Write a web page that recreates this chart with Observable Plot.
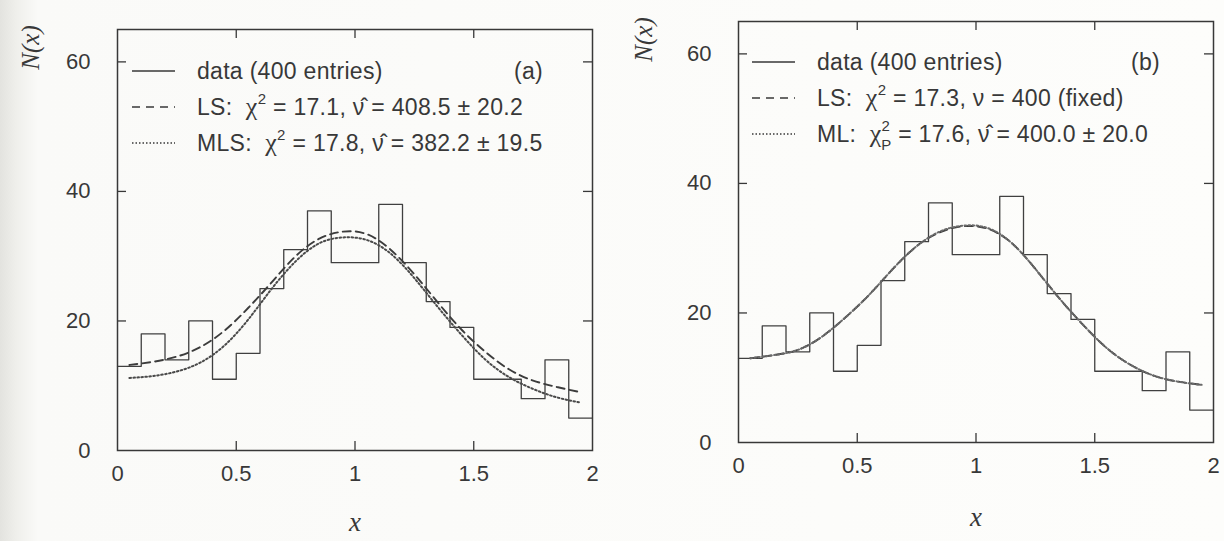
<!DOCTYPE html>
<html>
<head>
<meta charset="utf-8">
<script src="https://cdn.jsdelivr.net/npm/d3@7"></script>
<script src="https://cdn.jsdelivr.net/npm/@observablehq/plot@0.6"></script>
<style>
  html, body { margin: 0; padding: 0; background: #fdfdfb; }
  #wrap { display: flex; width: 1224px; height: 541px;
    background: linear-gradient(to right, #e3e3df 0px, #efefeb 16px, #fafaf8 38px, #fdfdfb 100%); }
  #wrap svg { display: block; }
</style>
</head>
<body>
<div id="wrap"></div>
<script>
// ---------- data ----------
const binEdges = [0, 0.1, 0.2, 0.3, 0.4, 0.5, 0.6, 0.7, 0.8, 0.9, 1.0,
                  1.1, 1.2, 1.3, 1.4, 1.5, 1.6, 1.7, 1.8, 1.9, 2.0];
const counts = [13, 18, 14, 20, 11, 15, 25, 31, 37, 29, 29, 38, 29, 23, 19, 11, 11, 8, 14, 5];
const binCenters = [0.05, 0.15, 0.25, 0.35, 0.45, 0.55, 0.65, 0.75, 0.85, 0.95,
                    1.05, 1.15, 1.25, 1.35, 1.45, 1.55, 1.65, 1.75, 1.85, 1.95];
// panel (a)
const fitLS_a  = [13.2, 13.7, 14.5, 16.0, 18.5, 22.0, 26.0, 30.0, 32.7, 33.8,
                  33.4, 31.0, 27.2, 22.8, 18.6, 15.2, 12.5, 10.8, 9.8, 9.0];
const fitMLS_a = [11.2, 11.5, 12.2, 13.6, 16.2, 20.2, 25.0, 29.2, 32.0, 32.9,
                  32.5, 30.4, 26.6, 22.1, 17.8, 14.0, 11.3, 9.5, 8.2, 7.4];
// panel (b)
const fitLS_b  = [13.0, 13.5, 14.3, 16.3, 19.3, 22.8, 26.8, 30.3, 32.5, 33.4,
                  33.0, 30.8, 26.8, 22.3, 18.2, 14.6, 12.0, 10.3, 9.4, 8.9];
const fitML_b  = [13.0, 13.5, 14.3, 16.3, 19.3, 22.8, 26.8, 30.3, 32.6, 33.5,
                  33.1, 30.8, 26.8, 22.3, 18.2, 14.6, 12.0, 10.3, 9.4, 8.9];
const xTicks = [0, 0.5, 1, 1.5, 2];
const yTicks = [0, 20, 40, 60];
const xInnerTicks = [0.5, 1, 1.5];
const yInnerTicks = [20, 40, 60];
const xLabel = "x";
const yLabel = "N(x)";

const legendA = {
  tag: "(a)",
  rows: [
    [{t: "data (400 entries)"}],
    [{t: "LS:\u00a0\u00a0"}, {t: "χ", serif: true}, {t: "2", size: 15, dy: -11}, {t: " = 17.1, ", dy: 11}, {t: "ν\u0302"}, {t: " = 408.5 ± 20.2"}],
    [{t: "MLS:\u00a0\u00a0"}, {t: "χ", serif: true}, {t: "2", size: 15, dy: -11}, {t: " = 17.8, ", dy: 11}, {t: "ν\u0302"}, {t: " = 382.2 ± 19.5"}]
  ]
};
const legendB = {
  tag: "(b)",
  rows: [
    [{t: "data (400 entries)"}],
    [{t: "LS:\u00a0\u00a0"}, {t: "χ", serif: true}, {t: "2", size: 15, dy: -11}, {t: " = 17.3, ", dy: 11}, {t: "ν"}, {t: " = 400 (fixed)"}],
    [{t: "ML:\u00a0\u00a0"}, {t: "χ", serif: true}, {t: "2", size: 15, dy: -11}, {t: "P", size: 15, dx: -9, dy: 19}, {t: " = 17.6, ", dy: -8}, {t: "ν\u0302"}, {t: " = 400.0 ± 20.0"}]
  ]
};

const INK = "#383838";
const SANS = "'Liberation Sans', Arial, Helvetica, sans-serif";
const SERIF = "'Liberation Serif', 'Times New Roman', serif";

function panel(cfg) {
  const W = 612, H = 541;
  const innerW = W - cfg.ml - cfg.mr;
  const innerH = H - cfg.mt - cfg.mb;
  const hist = binEdges.map((e, i) => ({x: e, y: counts[Math.min(i, counts.length - 1)]}));
  const dash = binCenters.map((c, i) => ({x: c, y: cfg.dash[i]}));
  const dot = binCenters.map((c, i) => ({x: c, y: cfg.dot[i]}));
  const svg = Plot.plot({
    width: W, height: H,
    marginLeft: cfg.ml, marginRight: cfg.mr, marginTop: cfg.mt, marginBottom: cfg.mb,
    x: {domain: [0, 2]},
    y: {domain: [0, 65]},
    style: {fontFamily: SANS, color: INK, background: "transparent", overflow: "visible"},
    marks: [
      Plot.line(hist, {x: "x", y: "y", curve: "step-after", stroke: "#404040", strokeWidth: 1.3}),
      Plot.line(dash, {x: "x", y: "y", curve: "natural", stroke: "#3c3c3c", strokeWidth: 1.9, strokeDasharray: "8,5"}),
      Plot.line(dot, {x: "x", y: "y", curve: "natural", stroke: cfg.dotColor, strokeWidth: 2, strokeDasharray: "1.6,2.4"}),
      Plot.tickY(yInnerTicks, {y: d => d, insetRight: innerW - 9, stroke: INK, strokeWidth: 1.3}),
      Plot.tickY(yInnerTicks, {y: d => d, insetLeft: innerW - 9, stroke: INK, strokeWidth: 1.3}),
      Plot.tickX(xInnerTicks, {x: d => d, insetTop: innerH - 9, stroke: INK, strokeWidth: 1.3}),
      Plot.tickX(xInnerTicks, {x: d => d, insetBottom: innerH - 9, stroke: INK, strokeWidth: 1.3}),
      Plot.frame({stroke: INK, strokeWidth: 1.5}),
      Plot.axisX(xTicks, {tickSize: 0, tickPadding: 15, fontSize: 22, label: null, fill: INK, tickFormat: d => String(d)}),
      Plot.axisY(yTicks, {tickSize: 0, tickPadding: 27, fontSize: 22, label: null, fill: INK, tickFormat: d => String(d)}),
      Plot.text([xLabel], {frameAnchor: "bottom", dy: cfg.xLabelDy, text: d => d, fontSize: 27,
        textAnchor: "middle", lineAnchor: "middle",
        fontStyle: "italic", fontFamily: SERIF, fill: INK}),
      Plot.text([yLabel], {frameAnchor: "top-left", dx: cfg.yLabelDx, dy: cfg.yLabelDy, rotate: -90,
        textAnchor: "middle", lineAnchor: "middle",
        text: d => d, fontSize: 25, fontStyle: "italic", fontFamily: SERIF, fill: INK})
    ]
  });

  // legend (annotation drawn in pixel space inside the frame)
  const g = d3.select(svg).append("g")
    .attr("font-family", SANS).attr("font-size", 23).attr("fill", INK)
    .attr("letter-spacing", 0.3)
    .attr("text-anchor", "start");
  const ox = cfg.ml, oy = cfg.mt;
  const styles = [null, "8,6", "1.5,2"];
  cfg.legend.rows.forEach((row, r) => {
    const yy = oy + cfg.rowDy[r];
    g.append("line")
      .attr("x1", ox + cfg.sampleX[0]).attr("x2", ox + cfg.sampleX[1])
      .attr("y1", yy).attr("y2", yy)
      .attr("stroke", INK).attr("stroke-width", r === 2 ? 1.6 : 1.5)
      .attr("stroke-dasharray", styles[r]);
    const text = g.append("text").attr("x", ox + cfg.textX).attr("y", yy + 8)
      .attr("text-anchor", "start");
    row.forEach(p => {
      const ts = text.append("tspan").text(p.t);
      if (p.size) ts.attr("font-size", p.size);
      if (p.dy) ts.attr("dy", p.dy);
      if (p.dx) ts.attr("dx", p.dx);
      if (p.serif) ts.attr("font-family", SERIF).attr("font-size", 26);
    });
  });
  g.append("text").attr("x", ox + innerW - cfg.tagRight).attr("y", oy + cfg.rowDy[0] + 8)
    .attr("text-anchor", "end").text(cfg.legend.tag);
  return svg;
}

const wrap = document.getElementById("wrap");
wrap.appendChild(panel({
  ml: 117, mr: 20, mt: 29, mb: 91,
  dash: fitLS_a, dot: fitMLS_a, dotColor: "#4a4a4a", legend: legendA,
  xLabelDy: 72, yLabelDx: -87, yLabelDy: 18,
  sampleX: [15, 58], textX: 80, rowDy: [42, 78, 114], tagRight: 49
}));
wrap.appendChild(panel({
  ml: 126, mr: 11, mt: 21, mb: 99,
  dash: fitLS_b, dot: fitML_b, dotColor: "#6a6a6a", legend: legendB,
  xLabelDy: 75, yLabelDx: -95, yLabelDy: 18,
  sampleX: [14, 57], textX: 79, rowDy: [41, 77, 113], tagRight: 53
}));
</script>
</body>
</html>
